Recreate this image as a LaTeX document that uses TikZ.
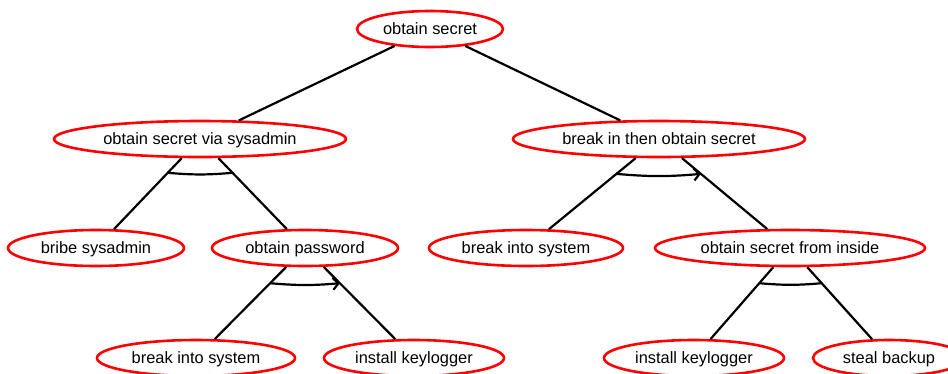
\documentclass[tikz,border=0pt]{standalone}
\usepackage{fontspec}
\setmainfont{Liberation Sans}
\usetikzlibrary{shapes.geometric,calc,arrows.meta}
\begin{document}
\begin{tikzpicture}[x=1pt,y=-1pt,
  goal/.style={ellipse,draw=red,line width=2.6pt,inner sep=0pt,minimum height=36pt,
    font=\fontsize{16.4}{19}\selectfont,text height=13.5pt,text depth=2.5pt},
  edge/.style={draw=black,line width=2.2pt},
  andarc/.style={draw=black,line width=2.2pt,bend right=5},
  sandarc/.style={andarc,-{Straight Barb[length=5.5pt,width=12pt]}}]
\useasboundingbox (0,0) rectangle (948,373);
\clip (0,0) rectangle (948,373);
% nodes
\node[goal,minimum width=146pt] (top) at (430,29) {obtain secret};
\node[goal,minimum width=292pt] (sys) at (200,139) {obtain secret via sysadmin};
\node[goal,minimum width=292pt] (brk) at (659,139) {break in then obtain secret};
\node[goal,minimum width=176pt] (bribe) at (96,248) {bribe sysadmin};
\node[goal,minimum width=186pt] (pwd) at (305,248) {obtain password};
\node[goal,minimum width=194pt] (bis1) at (526,248) {break into system};
\node[goal,minimum width=270pt] (inside) at (790,248) {obtain secret from inside};
\node[goal,minimum width=198pt] (bis2) at (196,358) {break into system};
\node[goal,minimum width=180pt] (kl1) at (414,358) {install keylogger};
\node[goal,minimum width=180pt] (kl2) at (694,358) {install keylogger};
\node[goal,minimum width=152pt] (steal) at (889,358) {steal backup};
% edges
\draw[edge] (top) -- (sys);
\draw[edge] (top) -- (brk);
\draw[edge] (sys) -- (bribe);
\draw[edge] (sys) -- (pwd);
\draw[edge] (pwd) -- (bis2);
\draw[edge] (pwd) -- (kl1);
\draw[edge] (brk) -- (bis1);
\draw[edge] (brk) -- (inside);
\draw[edge] (inside) -- (kl2);
\draw[edge] (inside) -- (steal);
% arcs
\coordinate (a1) at ($(sys)!0.31!(bribe)$);
\coordinate (a2) at ($(sys)!0.31!(pwd)$);
\coordinate (b1) at ($(pwd)!0.32!(bis2)$);
\coordinate (b2) at ($(pwd)!0.32!(kl1)$);
\coordinate (c1) at ($(brk)!0.32!(bis1)$);
\coordinate (c2) at ($(brk)!0.32!(inside)$);
\coordinate (d1) at ($(inside)!0.32!(kl2)$);
\coordinate (d2) at ($(inside)!0.32!(steal)$);
\draw[andarc] (a1) to (a2);
\draw[sandarc] (b1) to (b2);
\draw[sandarc] (c1) to (c2);
\draw[andarc] (d1) to (d2);
\end{tikzpicture}
\end{document}
